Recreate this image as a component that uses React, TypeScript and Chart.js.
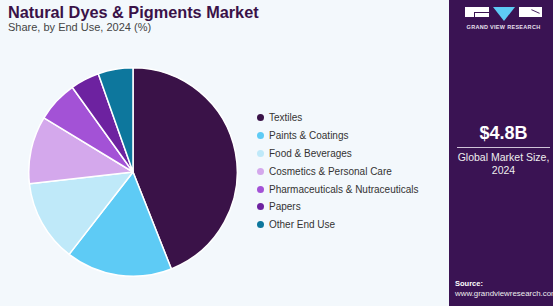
import React, { useEffect, useRef } from "react";
import { Chart, registerables } from "chart.js";

Chart.register(...registerables);

const categories = [
  "Textiles",
  "Paints & Coatings",
  "Food & Beverages",
  "Cosmetics & Personal Care",
  "Pharmaceuticals & Nutraceuticals",
  "Papers",
  "Other End Use",
];
const shares = [44.0, 16.5, 12.7, 10.5, 6.4, 4.5, 5.4];
const colors = ["#3a1248", "#5ecbf5", "#bfe9f9", "#d4a8ec", "#a352d6", "#6d22a0", "#0d779d"];

const title = "Natural Dyes & Pigments Market";
const subtitle = "Share, by End Use, 2024 (%)";
const marketSize = "$4.8B";
const marketLabel = ["Global Market Size,", "2024"];

const FONT = "'Liberation Sans', Arial, sans-serif";
const PANEL = "#3a1353";

export default function App() {
  const canvasRef = useRef<HTMLCanvasElement | null>(null);

  useEffect(() => {
    if (!canvasRef.current) return;
    const chart = new Chart(canvasRef.current, {
      type: "pie",
      data: {
        labels: categories,
        datasets: [
          {
            data: shares,
            backgroundColor: colors,
            borderColor: "#ffffff",
            borderWidth: 1.5,
          },
        ],
      },
      options: {
        responsive: false,
        animation: false,
        maintainAspectRatio: false,
        layout: { padding: 0 },
        plugins: {
          legend: { display: false },
          tooltip: { enabled: false },
        },
      },
    });
    return () => chart.destroy();
  }, []);

  return (
    <div
      style={{
        position: "fixed",
        left: 0,
        top: 0,
        width: 553,
        height: 306,
        background: "#f3f8fc",
        fontFamily: FONT,
        overflow: "hidden",
      }}
    >
      <div
        style={{
          position: "absolute",
          left: 8,
          top: 3,
          fontSize: 16.3,
          fontWeight: 700,
          color: "#3a1248",
          whiteSpace: "nowrap",
        }}
      >
        {title}
      </div>
      <div
        style={{
          position: "absolute",
          left: 8,
          top: 21,
          fontSize: 11,
          color: "#444",
          whiteSpace: "nowrap",
        }}
      >
        {subtitle}
      </div>

      <canvas
        ref={canvasRef}
        width={210}
        height={210}
        style={{ position: "absolute", left: 28, top: 67, width: 210, height: 210 }}
      />

      <div style={{ position: "absolute", left: 257, top: 109 }}>
        {categories.map((c, i) => (
          <div
            key={c}
            style={{
              display: "flex",
              alignItems: "center",
              height: 17.8,
              fontSize: 10,
              color: "#333",
              whiteSpace: "nowrap",
            }}
          >
            <span
              style={{
                display: "inline-block",
                width: 7,
                height: 7,
                borderRadius: "50%",
                background: colors[i],
                marginRight: 5,
              }}
            />
            {c}
          </div>
        ))}
      </div>

      <div
        style={{
          position: "absolute",
          left: 449,
          top: 0,
          width: 104,
          height: 306,
          background: PANEL,
          color: "#fff",
        }}
      >
        {/* logo */}
        <div style={{ position: "absolute", left: 16, top: 7, width: 24, height: 10, background: "#fff" }}>
          <div style={{ position: "absolute", left: 9, top: 5, width: 15, height: 1, background: PANEL }} />
          <div style={{ position: "absolute", left: 9, top: 5, width: 1, height: 5, background: PANEL }} />
        </div>
        <div
          style={{
            position: "absolute",
            left: 44,
            top: 7,
            width: 0,
            height: 0,
            borderLeft: "11.5px solid transparent",
            borderRight: "11.5px solid transparent",
            borderTop: "14px solid #5ecbf5",
          }}
        />
        <div style={{ position: "absolute", left: 70, top: 7, width: 23, height: 10, background: "#fff" }}>
          <div
            style={{
              position: "absolute",
              left: 12,
              top: 4,
              width: 9,
              height: 1,
              background: PANEL,
              transform: "rotate(25deg)",
            }}
          />
        </div>
        <div
          style={{
            position: "absolute",
            left: 0,
            top: 24,
            width: 109,
            textAlign: "center",
            fontSize: 5.5,
            fontWeight: 700,
            letterSpacing: 0.3,
            whiteSpace: "nowrap",
            color: "#e8e0ee",
          }}
        >
          GRAND VIEW RESEARCH
        </div>

        <div
          style={{
            position: "absolute",
            left: 0,
            top: 123,
            width: 109,
            textAlign: "center",
            fontSize: 18,
            fontWeight: 700,
          }}
        >
          {marketSize}
        </div>
        <div style={{ position: "absolute", left: 8, top: 147, width: 93, height: 1, background: "#cfc3d8" }} />
        <div
          style={{
            position: "absolute",
            left: 0,
            top: 151,
            width: 109,
            textAlign: "center",
            fontSize: 10.5,
            lineHeight: "13px",
            color: "#eee",
          }}
        >
          {marketLabel[0]}
          <br />
          {marketLabel[1]}
        </div>

        <div
          style={{
            position: "absolute",
            left: 6,
            top: 279,
            fontSize: 7.5,
            fontWeight: 700,
          }}
        >
          Source:
        </div>
        <div
          style={{
            position: "absolute",
            left: 6,
            top: 289,
            fontSize: 7.9,
            color: "#eee",
            whiteSpace: "nowrap",
          }}
        >
          www.grandviewresearch.com
        </div>
      </div>
    </div>
  );
}
